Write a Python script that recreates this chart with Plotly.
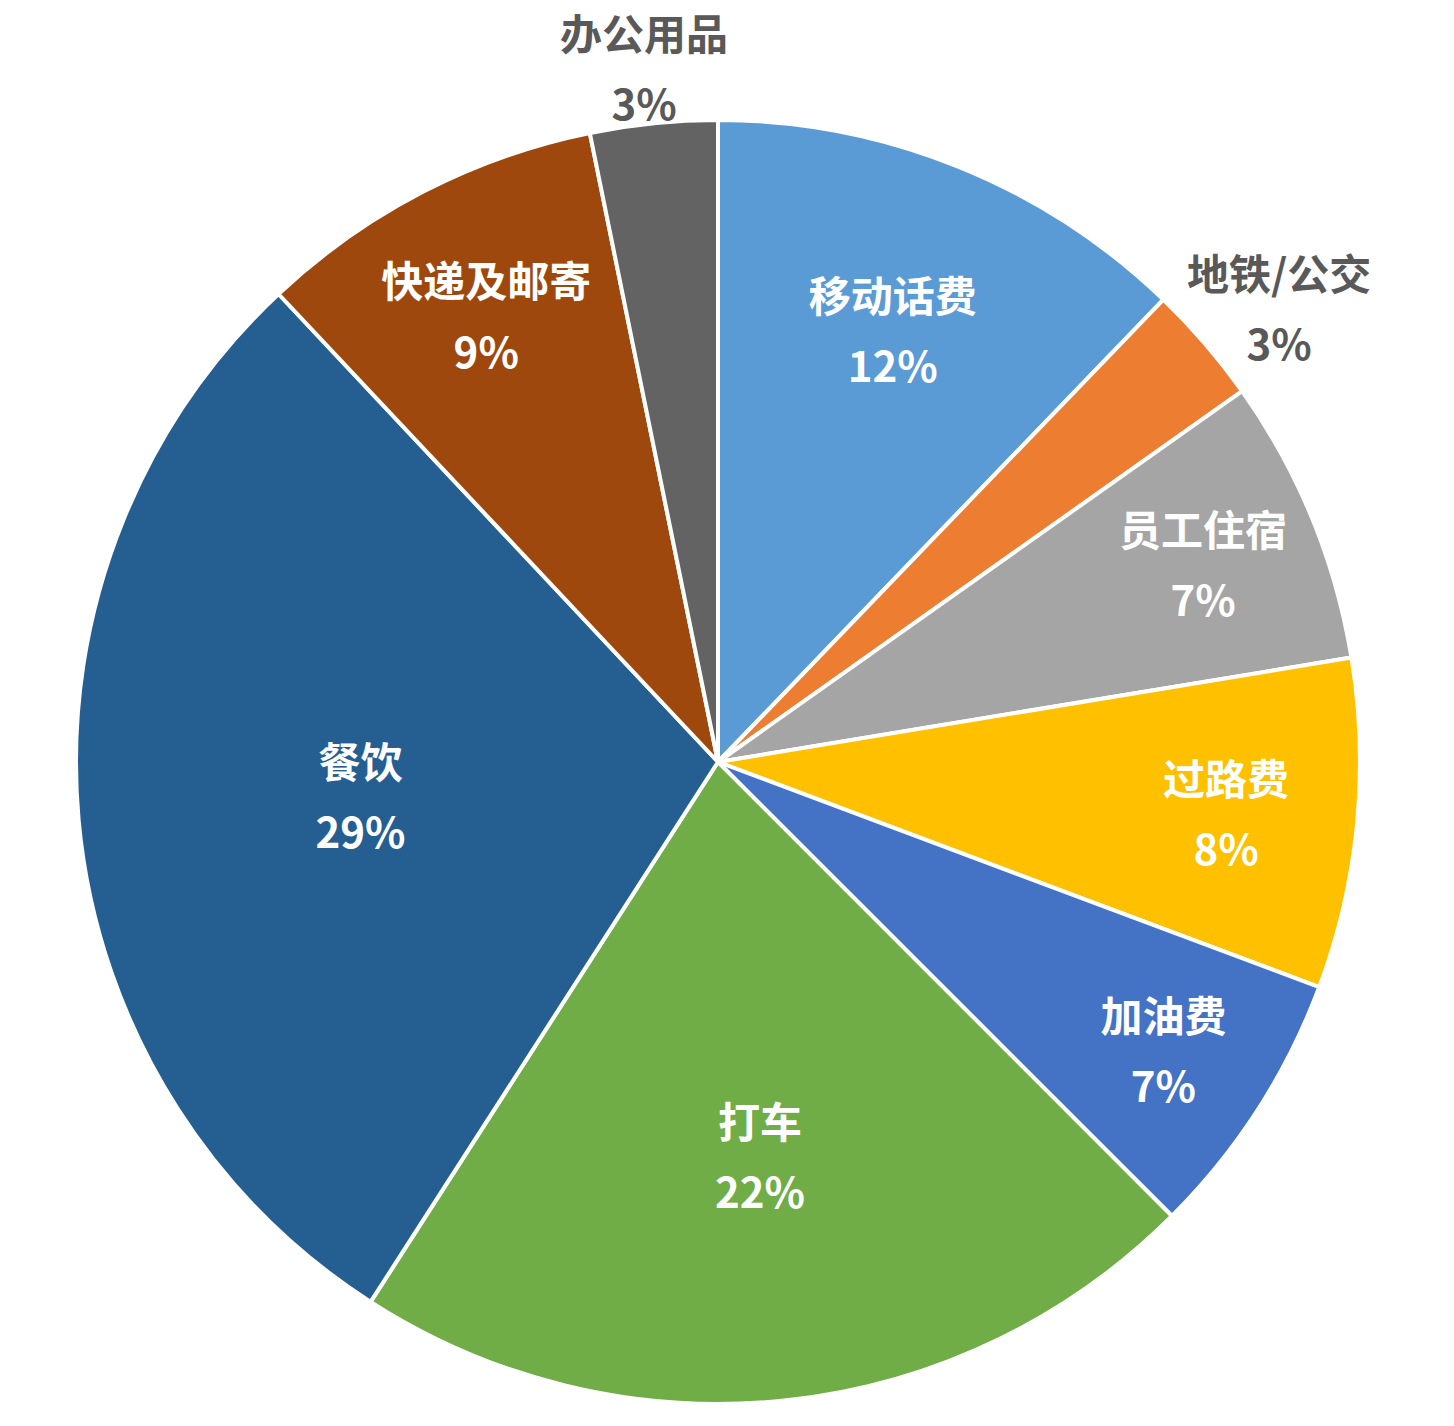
import numpy as np
import plotly.graph_objects as go

# Data (clockwise from 12 o'clock)
labels = ['移动话费', '地铁/公交', '员工住宿', '过路费', '加油费',
          '打车', '餐饮', '快递及邮寄', '办公用品']
values = [12.2, 3.0, 7.2, 8.3, 6.8, 21.6, 28.9, 8.8, 3.2]
colors = ['#5B9BD5', '#ED7D31', '#A5A5A5', '#FFC000', '#4472C4',
          '#70AD47', '#255E91', '#9E480E', '#636363']
outside = ['地铁/公交', '办公用品']  # labels drawn outside the pie

W, H = 1454, 1426
cx, cy, R = 710, 672, 642  # pie centre / radius in px (cy measured from bottom)

# big base font gives the wide line gap, spans set the glyph size
span = '<span style="font-size:42px">%s</span>'
template = span % '%{label}' + '<br>' + span % '%{percent:.0%}'
text_pos = ['none' if l in outside else 'inside' for l in labels]

fig = go.Figure()
fig.add_trace(go.Pie(
    labels=labels, values=values, sort=False, direction='clockwise', rotation=0,
    marker=dict(colors=colors, line=dict(color='white', width=4)),
    texttemplate=template,
    textposition=text_pos,
    insidetextorientation='horizontal',
    insidetextfont=dict(family='Noto Sans CJK SC', size=54, color='white', weight='bold'),
    hoverinfo='label+percent',
    domain=dict(x=[(cx - R) / W, (cx + R) / W], y=[(cy - R) / H, (cy + R) / H]),
    showlegend=False,
))

# outside labels sit on the slice's mid angle, just beyond the rim
# (text box half width/height added on each axis)
vals = np.array(values)
frac = vals / vals.sum()
mid = (np.cumsum(frac) - frac / 2) * 2 * np.pi
rx, ry = R + 98, R + 57
for i, lab in enumerate(labels):
    if lab not in outside:
        continue
    fig.add_annotation(
        x=(cx + rx * np.sin(mid[i])) / W, y=(cy + ry * np.cos(mid[i])) / H,
        xref='paper', yref='paper', xanchor='center', yanchor='middle',
        text=span % lab + '<br>' + span % f'{frac[i] * 100:.0f}%',
        showarrow=False,
        font=dict(family='Noto Sans CJK SC', size=54, color='#595959', weight='bold'),
    )

fig.update_layout(width=W, height=H, margin=dict(l=0, r=0, t=0, b=0),
                  paper_bgcolor='white', plot_bgcolor='white')
fig.write_html("out.html")
